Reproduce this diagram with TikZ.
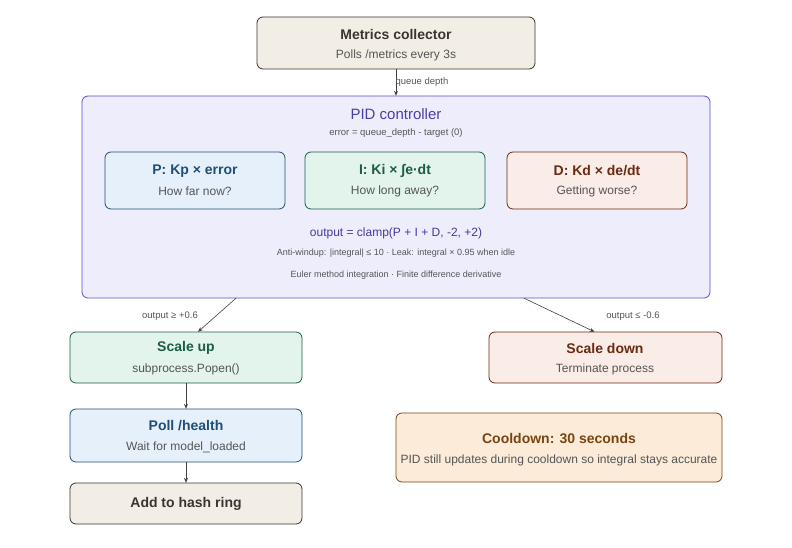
\documentclass[tikz,border=0pt]{standalone}
\usepackage{fontspec}
\setmainfont{Liberation Sans}
\usetikzlibrary{arrows.meta}
\definecolor{beigeF}{HTML}{F2EEE6}\definecolor{beigeD}{HTML}{3A3530}
\definecolor{pidF}{HTML}{EEEDFC}\definecolor{pidD}{HTML}{5A4FD0}
\definecolor{bluF}{HTML}{E6F0FA}\definecolor{bluD}{HTML}{1F4E79}
\definecolor{grnF}{HTML}{E2F4EC}\definecolor{grnD}{HTML}{1B5E45}
\definecolor{redF}{HTML}{FAECE6}\definecolor{redD}{HTML}{6B2A12}
\definecolor{orgF}{HTML}{FBEBD8}\definecolor{orgD}{HTML}{7A4410}
\definecolor{txt}{HTML}{555555}
\tikzset{
 box/.style={draw, rounded corners=6pt, line width=0.8pt, inner sep=0pt},
 ttl/.style={font=\fontsize{14}{16}\selectfont\bfseries},
 sub/.style={font=\fontsize{12}{14}\selectfont, text=txt},
 sm/.style={font=\fontsize{9.5}{11}\selectfont, text=txt},
 arr/.style={-{Stealth[length=5pt,width=4pt]}, draw=black!75, line width=0.6pt},
}
\begin{document}
\begin{tikzpicture}[x=1pt,y=-1pt]
\useasboundingbox (0,0) rectangle (792,548);
\newcommand{\bx}[7]{% name, x1,y1,x2,y2, fill, draw
 \path[box, fill=#6, draw=#7] (#2,#3) rectangle (#4,#5);
 \node (#1) at ({(#2+#4)/2},{(#3+#5)/2}) [minimum width={#4-#2}, minimum height={#5-#3}] {};}
\bx{mc}{257}{17}{535}{69}{beigeF}{beigeD}
\node[ttl, text=beigeD] (mct) at (396,34) {Metrics collector};
\node[sub] (mcs) at (396,55) {Polls /metrics every 3s};
\bx{pid}{82}{96}{710}{298}{pidF}{pidD}
\node[font=\fontsize{15}{17}\selectfont, text=pidD!80!black] (pidt) at (396,114) {PID controller};
\node[sm] (pids) at (396,133) {error = queue\_depth - target (0)};
\bx{p}{105}{152}{285}{209}{bluF}{bluD}
\node[ttl, text=bluD] (pt) at (195,171) {P: Kp × error};
\node[sub] (ps) at (195,191) {How far now?};
\bx{i}{305}{152}{485}{209}{grnF}{grnD}
\node[ttl, text=grnD] (it) at (395,171) {I: Ki × ∫e·dt};
\node[sub] (is) at (395,191) {How long away?};
\bx{d}{507}{152}{687}{209}{redF}{redD}
\node[ttl, text=redD] (dt) at (597,171) {D: Kd × de/dt};
\node[sub] (ds) at (597,191) {Getting worse?};
\node[font=\fontsize{12}{14}\selectfont, text=pidD!75!black] (out) at (396,233) {output = clamp(P + I + D, -2, +2)};
\node[sm, font=\fontsize{9}{11}\selectfont] (aw) at (396,253) {Anti-windup: |integral| ≤ 10 · Leak: integral × 0.95 when idle};
\node[sm, font=\fontsize{9}{11}\selectfont] (eu) at (396,275) {Euler method integration · Finite difference derivative};
\bx{su}{70}{332}{302}{383}{grnF}{grnD}
\node[ttl, text=grnD] (sut) at (186,348) {Scale up};
\node[sub] (sus) at (186,369) {subprocess.Popen()};
\bx{sd}{489}{332}{722}{383}{redF}{redD}
\node[ttl, text=redD] (sdt) at (605,348) {Scale down};
\node[sub] (sds) at (605,369) {Terminate process};
\bx{po}{70}{409}{302}{462}{bluF}{bluD}
\node[ttl, text=bluD] (pot) at (186,426) {Poll /health};
\node[sub] (pos) at (186,447) {Wait for model\_loaded};
\bx{ad}{70}{483}{302}{524}{beigeF}{beigeD}
\node[ttl, text=beigeD] (adt) at (186,504) {Add to hash ring};
\bx{cd}{396}{413}{722}{482}{orgF}{orgD}
\node[ttl, text=orgD] (cdt) at (559,439) {Cooldown: 30 seconds};
\node[sub] (cds) at (559,460) {PID still updates during cooldown so integral stays accurate};
\draw[arr] (mc.south) -- (pid.north);
\node[sm, anchor=west] (qd) at (392,82) {queue depth};
\draw[arr] ([xshift=-160pt]pid.south) -- ([xshift=12pt]su.north);
\node[sm] (l1) at (170,316) {output ≥ +0.6};
\draw[arr] ([xshift=128pt]pid.south) -- ([xshift=-11pt]sd.north);
\node[sm] (l2) at (633,316) {output ≤ -0.6};
\draw[arr] (su.south) -- (po.north);
\draw[arr] (po.south) -- (ad.north);
\end{tikzpicture}
\end{document}
